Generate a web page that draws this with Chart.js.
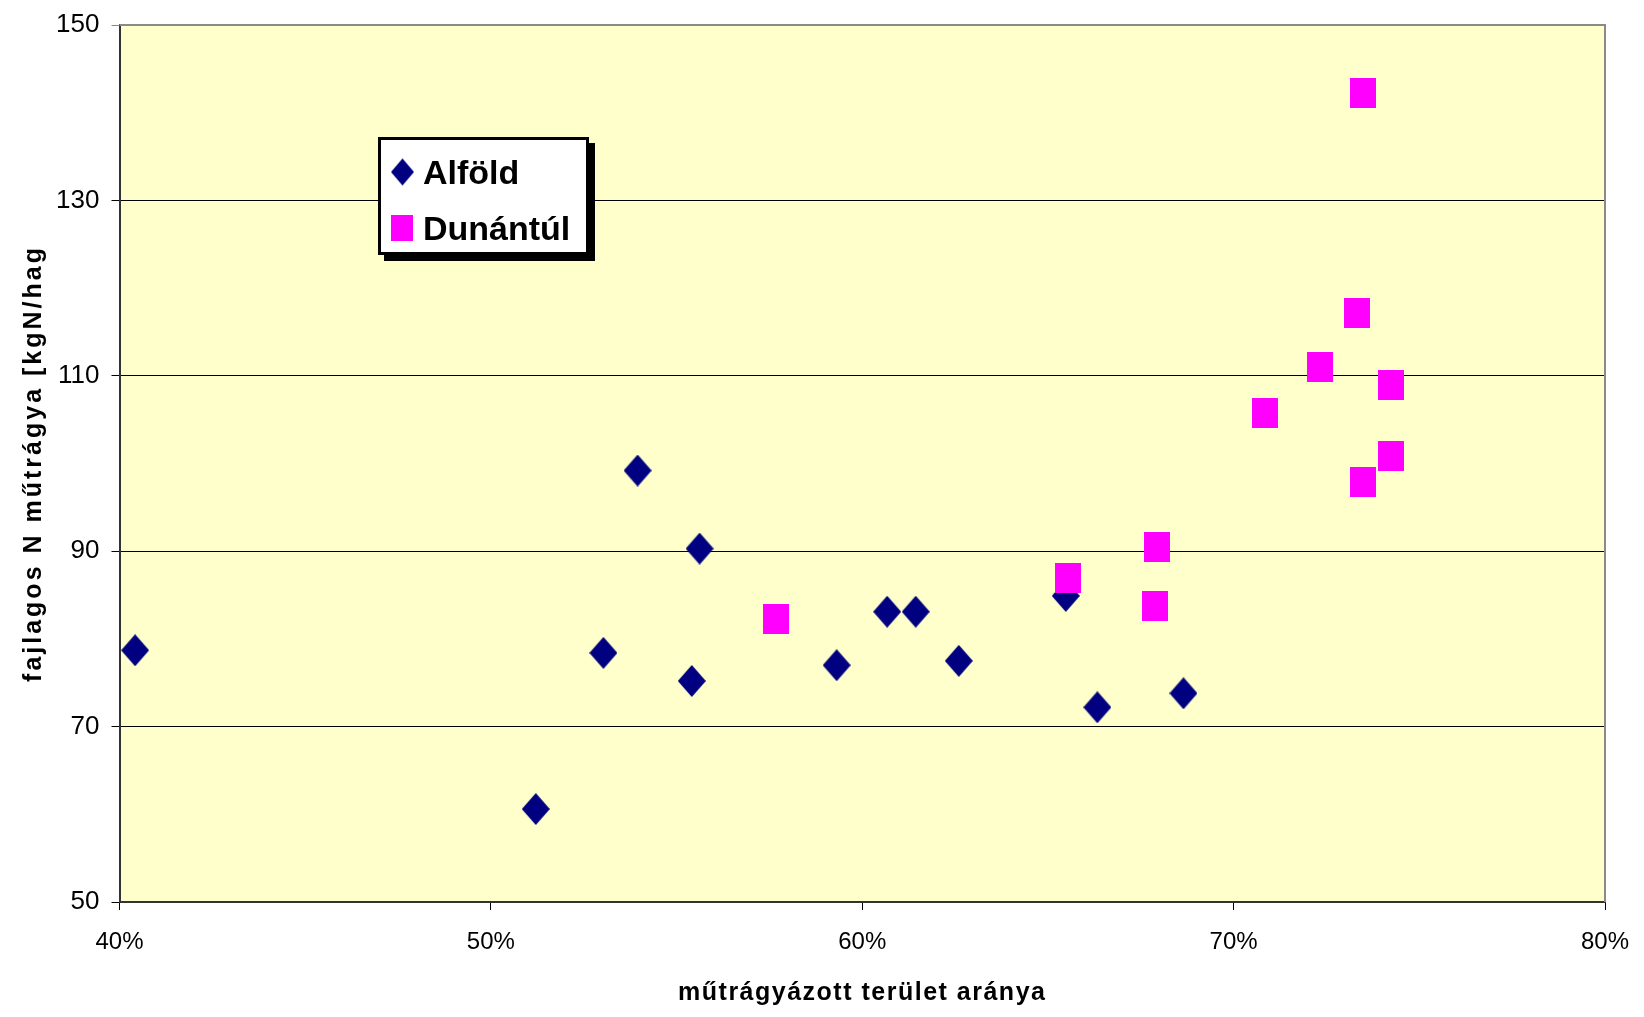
<!DOCTYPE html>
<html>
<head>
<meta charset="utf-8">
<script src="https://cdn.jsdelivr.net/npm/chart.js@4/dist/chart.umd.min.js"></script>
<style>
  html, body { margin: 0; padding: 0; background: #fff; }
  #wrap { position: relative; width: 1644px; height: 1017px; }
  #legend {
    position: absolute; left: 378px; top: 137px; width: 205px; height: 112px;
    border: 3px solid #000; background: #fff; box-shadow: 6px 6px 0 #000;
    font: bold 34px "Liberation Sans", Arial, sans-serif; color: #000;
  }
  #legend .item { position: absolute; left: 0; height: 40px; width: 205px; }
  #legend canvas { position: absolute; top: 50%; transform: translateY(-50%); }
  #legend span { position: absolute; left: 42px; top: 50%; transform: translateY(-50%); line-height: 1; }
</style>
</head>
<body>
<div id="wrap">
  <canvas id="scatterChart" width="1644" height="1017"></canvas>
  <div id="legend"></div>
</div>
<script>
var seriesNames = ['Alföld', 'Dunántúl'];
var alfoldX = [40.42, 51.21, 53.03, 53.95, 55.41, 55.62, 59.31, 60.67, 61.44, 62.60, 65.48, 66.33, 68.65];
var alfoldY = [78.7, 60.6, 78.4, 99.2, 75.2, 90.3, 77.0, 83.1, 83.1, 77.5, 84.9, 72.2, 73.8];
var dunaX = [57.67, 65.55, 67.87, 67.93, 70.85, 72.32, 73.33, 73.48, 73.48, 74.24, 74.24];
var dunaY = [82.3, 87.0, 83.7, 90.5, 105.8, 111.0, 117.2, 142.2, 97.9, 109.0, 100.8];
var xTicks = [40, 50, 60, 70, 80];
var yTicks = [50, 70, 90, 110, 130, 150];

var FONT = '"Liberation Sans", Arial, sans-serif';

function makeDiamond(w, h, color) {
  var c = document.createElement('canvas');
  c.width = w; c.height = h;
  var g = c.getContext('2d');
  g.fillStyle = color;
  g.beginPath();
  g.moveTo(w / 2, 0); g.lineTo(w, h / 2); g.lineTo(w / 2, h); g.lineTo(0, h / 2);
  g.closePath();
  g.fill();
  return c;
}
function makeSquare(w, h, color) {
  var c = document.createElement('canvas');
  c.width = w; c.height = h;
  var g = c.getContext('2d');
  g.fillStyle = color;
  g.fillRect(0, 0, w, h);
  return c;
}

function toPoints(xs, ys) {
  return xs.map(function(x, i) { return { x: x, y: ys[i] }; });
}

var plotFrame = {
  id: 'plotFrame',
  beforeDraw: function(chart) {
    var a = chart.chartArea, ctx = chart.ctx;
    ctx.save();
    ctx.fillStyle = '#FFFFCC';
    ctx.fillRect(a.left, a.top, a.right - a.left, a.bottom - a.top);
    ctx.restore();
  },
  beforeDatasetsDraw: function(chart) {
    var a = chart.chartArea, ctx = chart.ctx;
    ctx.save();
    ctx.strokeStyle = '#8a8a8a';
    ctx.lineWidth = 2;
    ctx.beginPath();
    ctx.moveTo(a.left, a.top); ctx.lineTo(a.right, a.top); ctx.lineTo(a.right, a.bottom);
    ctx.stroke();
    ctx.restore();
  },
  afterLayout: function(chart) {
    // spaced-out axis titles like the original
    [['x', '1.5px'], ['y', '3px']].forEach(function(p) {
      var s = chart.scales[p[0]];
      if (!s || s._spaced) return;
      var orig = s.drawTitle;
      s.drawTitle = function() {
        var c = this.ctx;
        c.save();
        c.letterSpacing = p[1];
        orig.apply(this, arguments);
        c.restore();
      };
      s._spaced = true;
    });
  }
};

var ctx = document.getElementById('scatterChart').getContext('2d');
var chart = new Chart(ctx, {
  type: 'scatter',
  data: {
    datasets: [
      { label: seriesNames[0], data: toPoints(alfoldX, alfoldY), pointStyle: makeDiamond(28, 32, '#000080'), pointRadius: 14, order: 2 },
      { label: seriesNames[1], data: toPoints(dunaX, dunaY), pointStyle: makeSquare(26, 30, '#FF00FF'), pointRadius: 14, order: 1 }
    ]
  },
  options: {
    responsive: false,
    animation: false,
    layout: { padding: { top: 25, right: 39, left: 0, bottom: 0 } },
    plugins: {
      legend: { display: false },
      tooltip: { enabled: false }
    },
    scales: {
      x: {
        type: 'linear', min: 40, max: 80,
        afterBuildTicks: function(scale) { scale.ticks = xTicks.map(function(v) { return { value: v }; }); },
        afterFit: function(scale) { scale.height = 115; scale.paddingLeft = 0; scale.paddingRight = 0; },
        grid: { drawOnChartArea: false, drawTicks: true, tickLength: 8, color: '#000', lineWidth: 1 },
        border: { color: '#333', width: 2 },
        ticks: { color: '#000', font: { family: FONT, size: 24 }, padding: 18, maxRotation: 0, callback: function(v) { return v + '%'; } },
        title: { display: true, text: 'műtrágyázott terület aránya', color: '#000', font: { family: FONT, size: 25, weight: 'bold' }, padding: { top: 0, bottom: 9 } }
      },
      y: {
        type: 'linear', min: 50, max: 150,
        afterBuildTicks: function(scale) { scale.ticks = yTicks.map(function(v) { return { value: v }; }); },
        afterFit: function(scale) { scale.width = 119.5; scale.paddingTop = 0; scale.paddingBottom = 0; },
        grid: {
          drawTicks: true, tickLength: 8, lineWidth: 1,
          color: function(c) { return c.tick && c.tick.value === 150 ? '#8a8a8a' : '#000'; }
        },
        border: { color: '#333', width: 2 },
        ticks: { color: '#000', font: { family: FONT, size: 26 }, padding: 12 },
        title: { display: true, text: 'fajlagos N műtrágya [kgN/hag', color: '#000', font: { family: FONT, size: 25, weight: 'bold' }, padding: { top: 19, bottom: 0 } }
      }
    }
  },
  plugins: [plotFrame]
});

// legend box built from the datasets
var legendEl = document.getElementById('legend');
var legendIcons = [makeDiamond(23, 27, '#000080'), makeSquare(22, 26, '#FF00FF')];
var rowCenters = [32, 88];
chart.data.datasets.forEach(function(ds, i) {
  var item = document.createElement('div');
  item.className = 'item';
  item.style.top = (rowCenters[i] - 20) + 'px';
  var icon = legendIcons[i];
  icon.style.left = (21 - icon.width / 2) + 'px';
  item.appendChild(icon);
  var span = document.createElement('span');
  span.textContent = ds.label;
  item.appendChild(span);
  legendEl.appendChild(item);
});
</script>
</body>
</html>
